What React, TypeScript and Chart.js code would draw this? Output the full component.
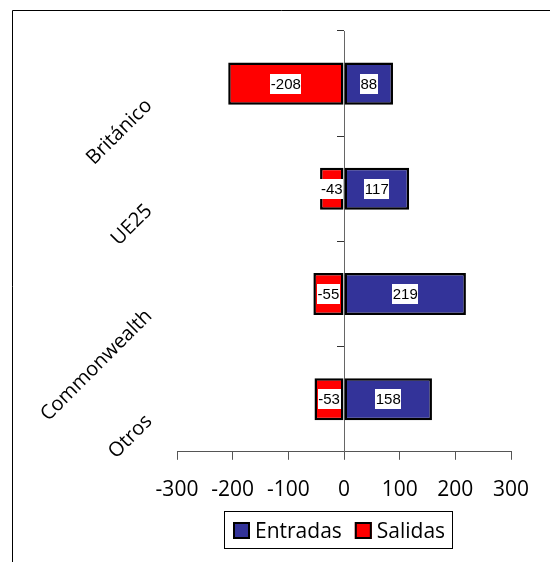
import React, { useEffect, useRef } from "react";
import { Chart, registerables } from "chart.js";

Chart.register(...registerables);

const categories = ["Británico", "UE25", "Commonwealth", "Otros"];
const entradas = [88, 117, 219, 158];
const salidas = [-208, -43, -55, -53];
const xTicks = [-300, -200, -100, 0, 100, 200, 300];
const seriesNames = ["Entradas", "Salidas"];

const BLUE = "#333399";
const RED = "#FF0000";
const SANS = '"Open Sans", "DejaVu Sans", sans-serif';
const ARIAL = '"Liberation Sans", Arial, sans-serif';

const framePlugin = {
  id: "frame",
  beforeDraw(chart: any) {
    const ctx = chart.ctx;
    ctx.save();
    ctx.strokeStyle = "#000";
    ctx.lineWidth = 1;
    ctx.beginPath();
    ctx.moveTo(12.5, chart.height);
    ctx.lineTo(12.5, 10.5);
    ctx.lineTo(chart.width, 10.5);
    ctx.stroke();
    ctx.restore();
  },
};

const valueLabelPlugin = {
  id: "valueLabels",
  afterDatasetsDraw(chart: any) {
    const ctx = chart.ctx;
    ctx.save();
    ctx.font = `15px ${ARIAL}`;
    ctx.textAlign = "center";
    ctx.textBaseline = "middle";
    chart.data.datasets.forEach((ds: any, di: number) => {
      const meta = chart.getDatasetMeta(di);
      meta.data.forEach((el: any, i: number) => {
        const p = el.getProps(["x", "y", "base"], true);
        const cx = (p.x + p.base) / 2;
        const txt = String(ds.data[i]);
        const w = ctx.measureText(txt).width + 1;
        ctx.fillStyle = "#fff";
        ctx.fillRect(Math.round(cx - w / 2), Math.round(p.y - 10), Math.round(w), 20);
        ctx.fillStyle = "#000";
        ctx.fillText(txt, cx, p.y + 1);
      });
    });
    ctx.restore();
  },
};

const categoryLabelPlugin = {
  id: "categoryLabels",
  afterDraw(chart: any) {
    const ctx = chart.ctx;
    const ys = chart.scales.y;
    ctx.save();
    ctx.font = `20px ${SANS}`;
    ctx.fillStyle = "#000";
    ctx.textAlign = "right";
    ctx.textBaseline = "alphabetic";
    categories.forEach((c, i) => {
      const y = ys.getPixelForValue(i);
      ctx.save();
      ctx.translate(153, y + 23);
      ctx.rotate(-Math.PI / 4);
      ctx.fillText(c, 0, 0);
      ctx.restore();
    });
    ctx.restore();
  },
};

const legendPlugin = {
  id: "boxLegend",
  afterDraw(chart: any) {
    const ctx = chart.ctx;
    ctx.save();
    ctx.font = `21px ${SANS}`;
    const sq = 17;
    const gap = 5;
    const between = 13;
    const padX = 8;
    const items = chart.data.datasets.map((ds: any) => ({
      label: ds.label,
      color: ds.backgroundColor,
      w: ctx.measureText(ds.label).width,
    }));
    let total = 0;
    items.forEach((it: any, i: number) => {
      total += sq + gap + it.w + (i < items.length - 1 ? between : 0);
    });
    const boxW = total + padX * 2;
    const cxBox = 338;
    const top = 511.5;
    const boxH = 37;
    const left = Math.round(cxBox - boxW / 2) + 0.5;
    ctx.strokeStyle = "#000";
    ctx.lineWidth = 1;
    ctx.strokeRect(left, top, Math.round(boxW), boxH);
    let x = Math.round(left + padX);
    const cy = Math.round(top + boxH / 2);
    items.forEach((it: any) => {
      ctx.fillStyle = it.color;
      ctx.fillRect(x, cy - 8, sq, sq);
      ctx.strokeStyle = "#000";
      ctx.lineWidth = 2;
      ctx.strokeRect(x + 1, cy - 8 + 1, sq - 2, sq - 2);
      x += sq + gap;
      ctx.fillStyle = "#000";
      ctx.textAlign = "left";
      ctx.textBaseline = "alphabetic";
      ctx.fillText(it.label, x, cy + 8);
      x += it.w + between;
    });
    ctx.restore();
  },
};

export default function App() {
  const ref = useRef<HTMLCanvasElement | null>(null);
  useEffect(() => {
    if (!ref.current) return;
    const chart = new Chart(ref.current, {
      type: "bar",
      data: {
        labels: categories,
        datasets: [
          {
            label: seriesNames[0],
            data: entradas,
            backgroundColor: BLUE,
            borderColor: "#000",
            borderWidth: 2.5,
            borderSkipped: false,
          },
          {
            label: seriesNames[1],
            data: salidas,
            backgroundColor: RED,
            borderColor: "#000",
            borderWidth: 2.5,
            borderSkipped: false,
          },
        ],
      },
      options: {
        indexAxis: "y",
        responsive: false,
        animation: false,
        events: [],
        layout: { padding: { left: 177, right: 39, top: 31, bottom: 41 } },
        datasets: { bar: { categoryPercentage: 1, barPercentage: 0.4 } },
        plugins: {
          legend: { display: false },
          tooltip: { enabled: false },
          title: { display: false },
        },
        scales: {
          x: {
            type: "linear",
            stacked: true,
            min: -300,
            max: 300,
            afterBuildTicks: (s: any) => {
              s.ticks = xTicks.map((v) => ({ value: v }));
            },
            ticks: {
              font: { family: SANS, size: 21 },
              color: "#000",
              padding: 18,
            },
            grid: {
              drawOnChartArea: false,
              drawTicks: true,
              tickLength: 8,
              color: "#555",
            },
            border: { color: "#555", width: 1 },
          },
          y: {
            type: "category",
            stacked: true,
            position: { x: 0 },
            ticks: { display: false },
            grid: {
              drawOnChartArea: false,
              drawTicks: true,
              tickLength: 7,
              color: "#333",
              offset: true,
            },
            border: { color: "#666", width: 1 },
          },
        },
      } as any,
      plugins: [framePlugin, valueLabelPlugin, categoryLabelPlugin, legendPlugin],
    });
    return () => chart.destroy();
  }, []);
  return (
    <div style={{ position: "fixed", left: 0, top: 0, width: 550, height: 562, background: "#fff" }}>
      <canvas ref={ref} width={550} height={562} style={{ display: "block" }} />
    </div>
  );
}
